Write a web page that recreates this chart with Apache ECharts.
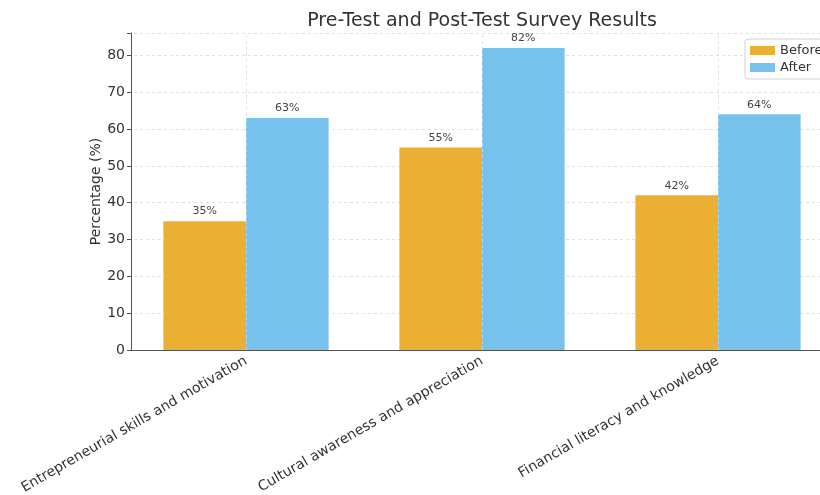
<!DOCTYPE html>
<html>
<head>
<meta charset="utf-8">
<script src="https://cdn.jsdelivr.net/npm/echarts@6/dist/echarts.min.js"></script>
<style>
html, body { margin: 0; padding: 0; background: #fff; }
#graph { width: 820px; height: 495px; }
</style>
</head>
<body>
<div id="graph"></div>
<script>
var categories = ['Entrepreneurial skills and motivation', 'Cultural awareness and appreciation', 'Financial literacy and knowledge'];
var beforeValues = [35, 55, 42];
var afterValues = [63, 82, 64];
var yTicks = [0, 10, 20, 30, 40, 50, 60, 70, 80];

var chartDom = document.getElementById('graph');
var myChart = echarts.init(chartDom);
var font = 'DejaVu Sans';

var barLabel = {
  show: true,
  position: 'top',
  distance: 4,
  color: '#444',
  fontSize: 11,
  fontFamily: font,
  formatter: function (p) { return p.value + '%'; }
};

var option = {
  animation: false,
  backgroundColor: '#fff',
  title: {
    text: 'Pre-Test and Post-Test Survey Results',
    left: 477,
    textAlign: 'center',
    top: 7,
    textStyle: { fontFamily: font, fontSize: 19, fontWeight: 'normal', color: '#333' }
  },
  legend: {
    orient: 'vertical',
    left: 745,
    top: 39,
    itemWidth: 25,
    itemHeight: 9,
    itemGap: 4,
    padding: [5, 8, 5, 5],
    backgroundColor: '#fff',
    borderColor: '#d0d0d0',
    borderWidth: 1,
    borderRadius: 3,
    icon: 'rect',
    textStyle: { fontFamily: font, fontSize: 13, color: '#333' },
    data: ['Before', 'After']
  },
  grid: { left: 128, top: 33, width: 708, height: 317, containLabel: false, outerBoundsMode: 'none' },
  xAxis: {
    type: 'category',
    data: categories,
    axisLine: { lineStyle: { color: '#555', width: 1 } },
    axisTick: { alignWithLabel: true, length: 4, lineStyle: { color: '#555' } },
    axisLabel: { rotate: 30, fontFamily: font, fontSize: 14, color: '#333', margin: 10, interval: 0 },
    splitLine: { show: false }
  },
  yAxis: {
    type: 'value',
    min: 0,
    max: 86.1,
    interval: 10,
    offset: -3,
    name: 'Percentage (%)',
    nameLocation: 'middle',
    nameGap: 28,
    nameMoveOverlap: false,
    nameTextStyle: { fontFamily: font, fontSize: 14, color: '#333' },
    axisLine: { show: true, lineStyle: { color: '#555', width: 1 } },
    axisTick: { show: true, length: 4, lineStyle: { color: '#555' } },
    axisLabel: {
      fontFamily: font, fontSize: 14, color: '#333', margin: 6,
      formatter: function (v) { return yTicks.indexOf(v) >= 0 ? String(v) : ''; }
    },
    splitLine: { show: true, lineStyle: { color: '#d8d8d8', type: [3, 3], width: 0.8 } }
  },
  series: [
    {
      name: 'grid',
      type: 'line',
      data: [],
      z: 0,
      silent: true,
      markLine: {
        silent: true,
        symbol: 'none',
        label: { show: false },
        lineStyle: { color: '#d8d8d8', type: [3, 3], width: 0.8 },
        data: categories.map(function (c) { return { xAxis: c }; })
      }
    },
    {
      name: 'Before',
      type: 'bar',
      data: beforeValues,
      barWidth: '35%',
      barGap: '0%',
      itemStyle: { color: '#EBB033' },
      label: barLabel
    },
    {
      name: 'After',
      type: 'bar',
      data: afterValues,
      barWidth: '35%',
      barGap: '0%',
      itemStyle: { color: '#77C2EC' },
      label: barLabel
    }
  ]
};

option && myChart.setOption(option);
</script>
</body>
</html>
